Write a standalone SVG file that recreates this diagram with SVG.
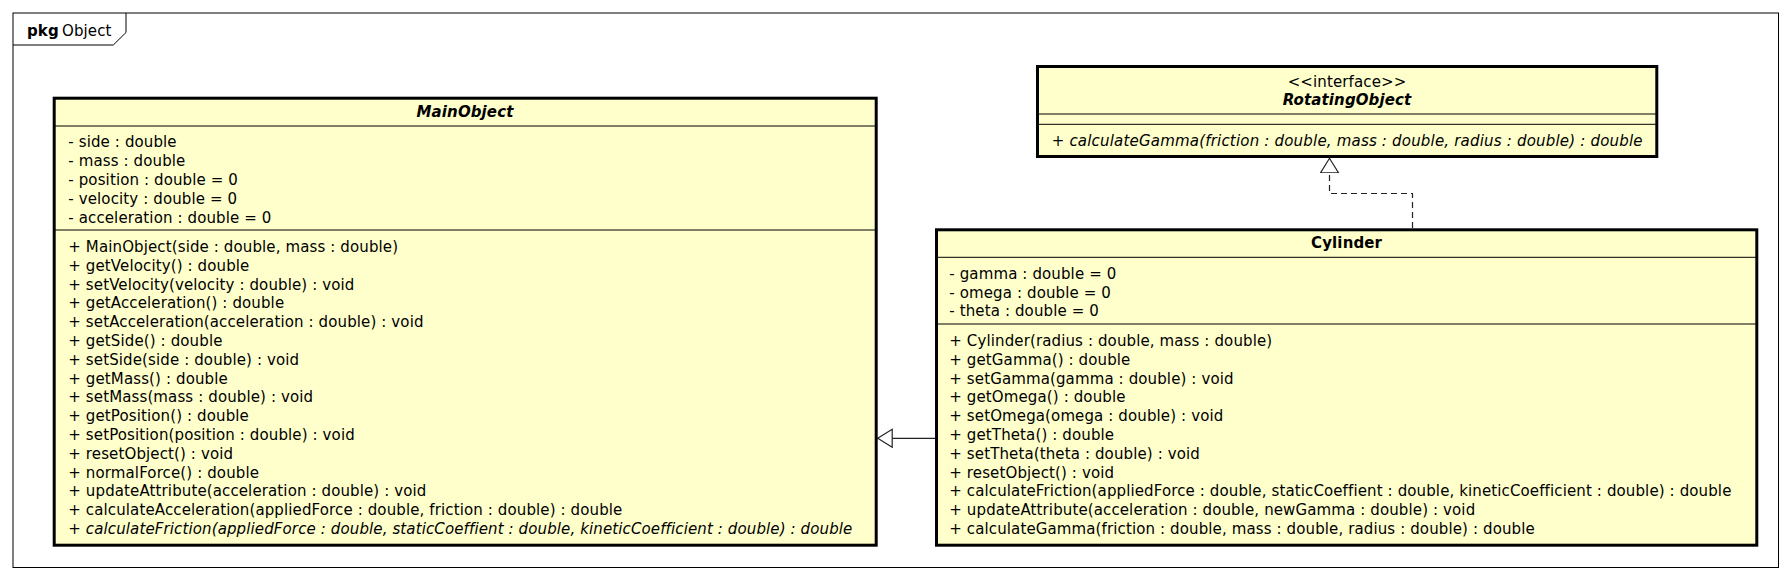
<svg xmlns="http://www.w3.org/2000/svg" width="1792" height="580" viewBox="0 0 1792 580">
<style>
.bg { fill:#ffffff; }
.frame { fill:none; stroke:#000; stroke-width:1; }
.box { fill:#FFFFCC; stroke:#000; stroke-width:3; }
.sep { stroke:#000; stroke-width:1; fill:none; }
.t { font-family:"DejaVu Sans", "Liberation Sans", sans-serif; font-size:15px; fill:#000; letter-spacing:0.12px; }
.b { font-weight:bold; }
.i { font-style:italic; }
.c { text-anchor:middle; }
.conn { fill:none; stroke:#222; stroke-width:1.2; }
.dash { stroke-dasharray:6 4; }
</style>
<defs>
<marker id="hollow" markerUnits="userSpaceOnUse" markerWidth="16" markerHeight="20" viewBox="0 0 16 20" refX="15" refY="9.5" orient="auto">
<path d="M0.5,0.5 L15,9.5 L0.5,18.5 Z" fill="#fff" stroke="#222" stroke-width="1.2" stroke-dasharray="none"/>
</marker>
</defs>
<rect class="bg" x="0" y="0" width="1792" height="580"/>
<g id="package">
<rect class="frame" x="13" y="13" width="1765.5" height="554.5"/>
<polyline class="frame" points="13,45 113.3,45 126,32.5 126,13"/>
<text class="t" x="27" y="36"><tspan class="b">pkg</tspan><tspan x="62">Object</tspan></text>
</g>
<g id="connectors">
<line class="conn" x1="935" y1="438.3" x2="877.7" y2="438.3" marker-end="url(#hollow)"/>
<polyline class="conn dash" points="1412.5,228 1412.5,193.5 1329.5,193.5 1329.5,158.3" marker-end="url(#hollow)"/>
</g>
<g id="MainObject">
<rect class="box" x="54.2" y="98.2" width="822" height="447"/>
<line class="sep" x1="54" y1="126" x2="876" y2="126"/>
<line class="sep" x1="54" y1="230" x2="876" y2="230"/>
<text class="t b i c" x="465" y="117">MainObject</text>
<text class="t" x="68.3" y="147">- side : double</text>
<text class="t" x="68.3" y="165.9">- mass : double</text>
<text class="t" x="68.3" y="184.8">- position : double = 0</text>
<text class="t" x="68.3" y="203.7">- velocity : double = 0</text>
<text class="t" x="68.3" y="222.6">- acceleration : double = 0</text>
<text class="t" x="68.3" y="252">+ MainObject(side : double, mass : double)</text>
<text class="t" x="68.3" y="270.8">+ getVelocity() : double</text>
<text class="t" x="68.3" y="289.6">+ setVelocity(velocity : double) : void</text>
<text class="t" x="68.3" y="308.4">+ getAcceleration() : double</text>
<text class="t" x="68.3" y="327.2">+ setAcceleration(acceleration : double) : void</text>
<text class="t" x="68.3" y="346">+ getSide() : double</text>
<text class="t" x="68.3" y="364.8">+ setSide(side : double) : void</text>
<text class="t" x="68.3" y="383.6">+ getMass() : double</text>
<text class="t" x="68.3" y="402.4">+ setMass(mass : double) : void</text>
<text class="t" x="68.3" y="421.2">+ getPosition() : double</text>
<text class="t" x="68.3" y="440">+ setPosition(position : double) : void</text>
<text class="t" x="68.3" y="458.8">+ resetObject() : void</text>
<text class="t" x="68.3" y="477.6">+ normalForce() : double</text>
<text class="t" x="68.3" y="496.4">+ updateAttribute(acceleration : double) : void</text>
<text class="t" x="68.3" y="515.2">+ calculateAcceleration(appliedForce : double, friction : double) : double</text>
<text class="t i" x="68.3" y="534">+ calculateFriction(appliedForce : double, staticCoeffient : double, kineticCoefficient : double) : double</text>
</g>
<g id="RotatingObject">
<rect class="box" x="1037.5" y="66.5" width="619.3" height="90"/>
<line class="sep" x1="1037.5" y1="114" x2="1656.8" y2="114"/>
<line class="sep" x1="1037.5" y1="124.3" x2="1656.8" y2="124.3"/>
<text class="t c" x="1347" y="86.5">&lt;&lt;interface&gt;&gt;</text>
<text class="t b i c" x="1347" y="105">RotatingObject</text>
<text class="t i" x="1051.7" y="145.5" textLength="591" lengthAdjust="spacing">+ calculateGamma(friction : double, mass : double, radius : double) : double</text>
</g>
<g id="Cylinder">
<rect class="box" x="936.5" y="229.8" width="820.3" height="315.4"/>
<line class="sep" x1="936.5" y1="257.3" x2="1756.8" y2="257.3"/>
<line class="sep" x1="936.5" y1="324" x2="1756.8" y2="324"/>
<text class="t b c" x="1346.6" y="248.3">Cylinder</text>
<text class="t" x="949.3" y="278.7">- gamma : double = 0</text>
<text class="t" x="949.3" y="297.5">- omega : double = 0</text>
<text class="t" x="949.3" y="316.3">- theta : double = 0</text>
<text class="t" x="949.3" y="346">+ Cylinder(radius : double, mass : double)</text>
<text class="t" x="949.3" y="364.8">+ getGamma() : double</text>
<text class="t" x="949.3" y="383.6">+ setGamma(gamma : double) : void</text>
<text class="t" x="949.3" y="402.4">+ getOmega() : double</text>
<text class="t" x="949.3" y="421.2">+ setOmega(omega : double) : void</text>
<text class="t" x="949.3" y="440">+ getTheta() : double</text>
<text class="t" x="949.3" y="458.8">+ setTheta(theta : double) : void</text>
<text class="t" x="949.3" y="477.6">+ resetObject() : void</text>
<text class="t" x="949.3" y="496.4">+ calculateFriction(appliedForce : double, staticCoeffient : double, kineticCoefficient : double) : double</text>
<text class="t" x="949.3" y="515.2">+ updateAttribute(acceleration : double, newGamma : double) : void</text>
<text class="t" x="949.3" y="534">+ calculateGamma(friction : double, mass : double, radius : double) : double</text>
</g>
</svg>
